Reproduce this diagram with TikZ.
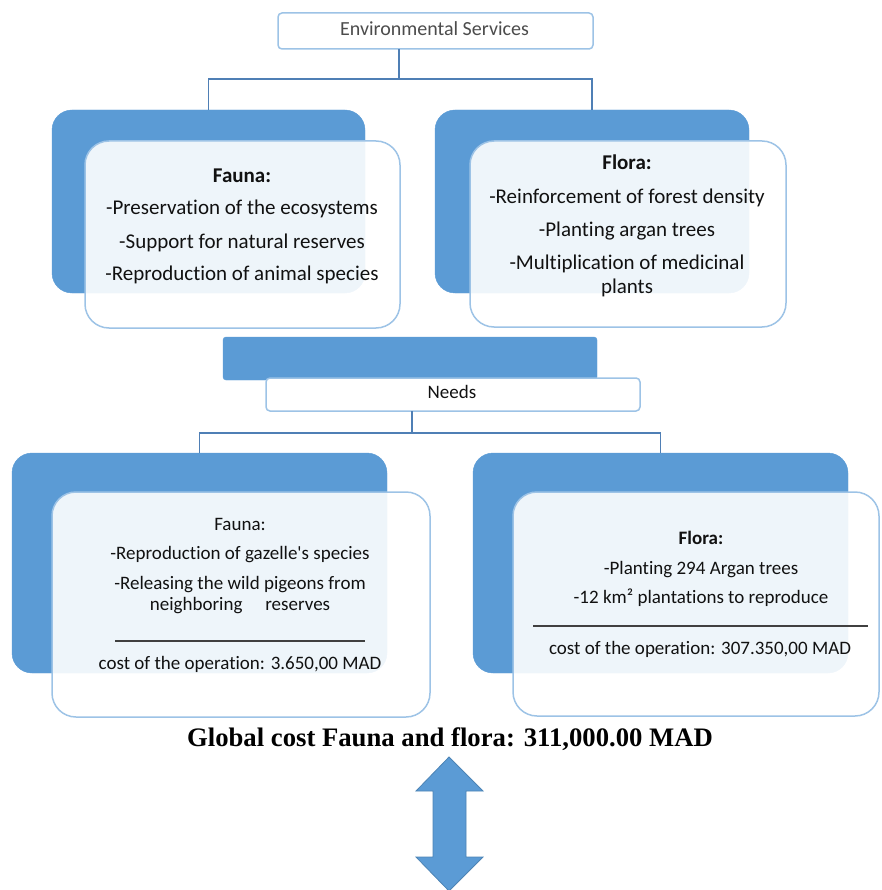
\documentclass[tikz,border=0pt]{standalone}
\usepackage{fontspec}
\setmainfont{Carlito}[Ligatures=NoCommon]
\newfontfamily\timesfont{Liberation Serif}
\definecolor{dkblue}{HTML}{5B9BD5}
\definecolor{ltborder}{HTML}{9DC3E6}
\definecolor{conn}{HTML}{4F7FB5}
\definecolor{txtcol}{HTML}{111111}
\begin{document}
\begin{tikzpicture}[x=1pt,y=-1pt,
  darkbox/.style={fill=dkblue, draw=dkblue, rounded corners=20pt, inner sep=0, outer sep=0},
  lightbox/.style={fill=white, fill opacity=0.9, draw=ltborder, line width=1.5pt, rounded corners=24pt, inner sep=0, outer sep=0},
  smallbox/.style={fill=white, draw=ltborder, line width=1.5pt, rounded corners=4pt, inner sep=0, outer sep=0},
  connector/.style={draw=conn, line width=1.3pt},
  bigtxt/.style={font=\fontsize{21}{25}\selectfont, text=txtcol, anchor=mid, inner sep=0},
  smtxt/.style={font=\fontsize{19}{23}\selectfont, text=txtcol, anchor=mid, inner sep=0},
  rule/.style={draw=black!75, line width=1.5pt}
]
\useasboundingbox (0,0) rectangle (881,890);

% top box
\node[smallbox, minimum width=315pt, minimum height=36pt] (envbox) at (435.5,31) {};
\node[smtxt, font=\fontsize{20}{24}\selectfont, text=black!70] (envtxt) at (434.5,33) {Environmental Services};

% upper blocks
\node[darkbox, minimum width=313pt, minimum height=183pt] (fa1d) at (208.5,201.5) {};
\node[lightbox, minimum width=315pt, minimum height=187pt] (fa1l) at (242.5,234.5) {};
\node[darkbox, minimum width=314pt, minimum height=183pt] (fl1d) at (592,201.5) {};
\node[lightbox, minimum width=316pt, minimum height=186pt] (fl1l) at (628,234) {};

\coordinate (j1) at (399,79);
\draw[connector] (envbox.south -| j1) -- (j1);
\draw[connector] (fa1d.north) |- (j1) -| (fl1d.north);

\node[bigtxt, font=\fontsize{21}{25}\selectfont\bfseries] (fa1t0) at (242,180) {Fauna:};
\node[bigtxt] (fa1t1) at (242,212) {-Preservation of the ecosystems};
\node[bigtxt] (fa1t2) at (242,246) {-Support for natural reserves};
\node[bigtxt] (fa1t3) at (242,278) {-Reproduction of animal species};

\node[bigtxt, font=\fontsize{21}{25}\selectfont\bfseries] (fl1t0) at (627,167) {Flora:};
\node[bigtxt] (fl1t1) at (627,201) {-Reinforcement of forest density};
\node[bigtxt] (fl1t2) at (627,234) {-Planting argan trees};
\node[bigtxt] (fl1t3) at (627,267) {-Multiplication of medicinal};
\node[bigtxt] (fl1t4) at (627,291) {plants};

% needs
\node[fill=dkblue, draw=dkblue, rounded corners=3pt, inner sep=0, minimum width=374pt, minimum height=43pt] (needsd) at (410,358.5) {};
\node[smallbox, minimum width=374pt, minimum height=33pt] (needsbox) at (453,394.5) {};
\node[smtxt] (needstxt) at (452,396) {Needs};

% lower blocks
\node[darkbox, minimum width=375pt, minimum height=220pt] (fa2d) at (199.5,563) {};
\node[lightbox, minimum width=378pt, minimum height=225pt] (fa2l) at (241,604.5) {};
\node[darkbox, minimum width=375pt, minimum height=220pt] (fl2d) at (660.5,563) {};
\node[lightbox, minimum width=366pt, minimum height=224pt] (fl2l) at (696,604) {};

\coordinate (j2) at (412,433);
\draw[connector] (needsbox.south -| j2) -- (j2);
\draw[connector] (fa2d.north) |- (j2) -| (fl2d.north);

\node[smtxt] (fa2t0) at (240,528) {Fauna:};
\node[smtxt] (fa2t1) at (240,557) {-Reproduction of gazelle\textquotesingle s species};
\node[smtxt] (fa2t2) at (240,587) {-Releasing the wild pigeons from};
\node[smtxt] (fa2t3) at (240,608) {neighboring\hspace{1.2em}reserves};
\coordinate (fa2r1) at (115,641);
\coordinate (fa2r2) at (365,641);
\draw[rule] (fa2r1) -- (fa2r2);
\node[smtxt] (fa2t4) at (240,667) {cost of the operation: 3.650,00 MAD};

\node[smtxt, font=\fontsize{19}{23}\selectfont\bfseries] (fl2t0) at (701,542) {Flora:};
\node[smtxt] (fl2t1) at (701,572) {-Planting 294 Argan trees};
\node[smtxt] (fl2t2) at (701,601) {-12 km² plantations to reproduce};
\coordinate (fl2r1) at (533,626);
\coordinate (fl2r2) at (868,626);
\draw[rule] (fl2r1) -- (fl2r2);
\node[smtxt] (fl2t3) at (700,652) {cost of the operation: 307.350,00 MAD};

% global cost
\node[inner sep=0, anchor=mid, font=\timesfont\bfseries\fontsize{26.7}{30}\selectfont] (global) at (450,744)
  {Global cost Fauna and flora: 311,000.00 MAD};

% double arrow
\draw[fill=dkblue, draw=dkblue!85!black, line width=0.8pt]
  (449,757) -- (483,791) -- (466,791) -- (466,857) -- (483,857) -- (449,891)
  -- (416,857) -- (433,857) -- (433,791) -- (416,791) -- cycle;
\end{tikzpicture}
\end{document}
